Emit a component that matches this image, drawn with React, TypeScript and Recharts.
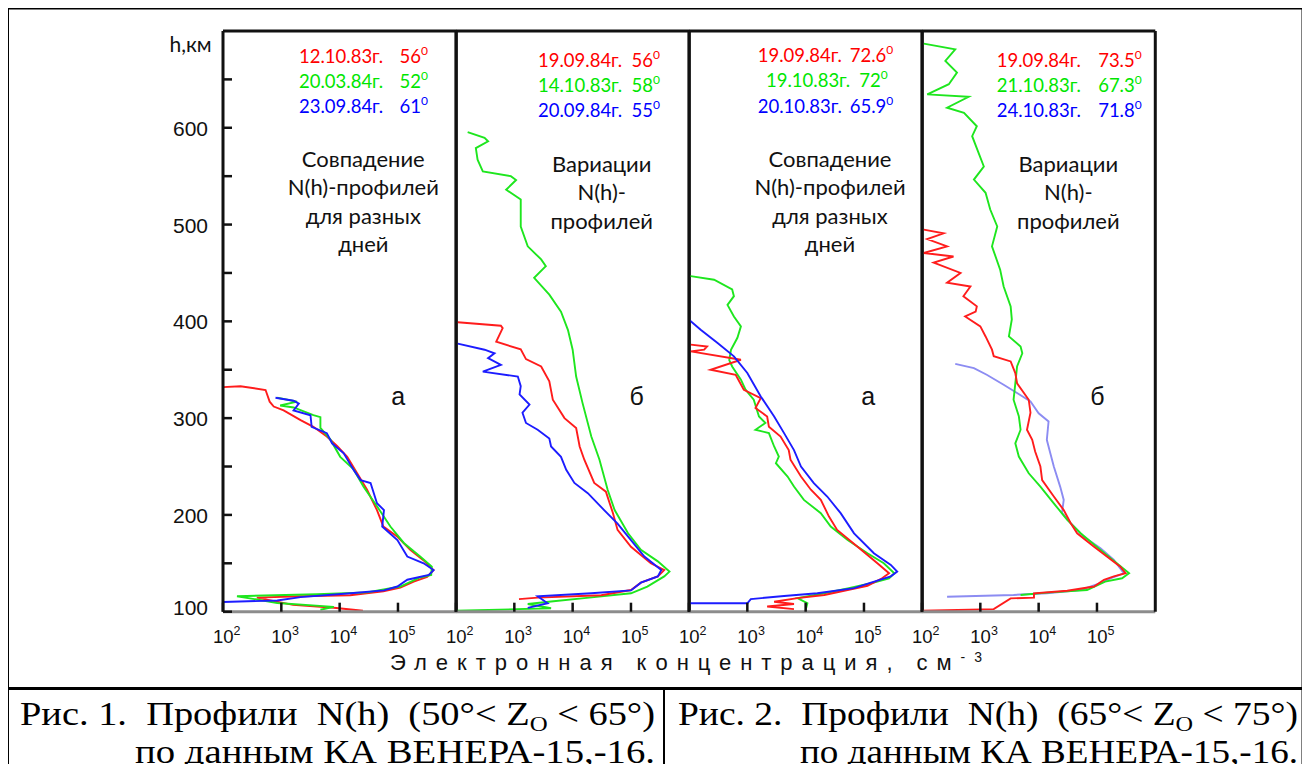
import React from 'react';
import { LineChart, Line, XAxis, YAxis } from 'recharts';

// each profile: [h, км ; lg N, см^-3], traced from the top of the profile down
type Pt = [number, number];

// Рис. 1 а
const p1Red: Pt[] = [
  [332, 2.0], [333, 2.3], [329, 2.73], [317, 2.8], [312, 2.87], [308, 3.04], [298, 3.33], [291, 3.55],
  [281, 3.78], [271, 3.96], [260, 4.13], [243, 4.3], [226, 4.47], [205, 4.64], [188, 4.75], [178, 4.98],
  [164, 5.21], [153, 5.44], [143, 5.61], [136, 5.5], [131, 5.27], [125, 5.04], [121, 4.75], [117, 4.18],
  [116, 3.33], [114.5, 2.58], [107, 3.2], [104, 3.9], [101, 4.4],
];
const p1Green: Pt[] = [
  [321, 2.93], [317, 3.27], [313, 2.98], [311, 3.21], [303, 3.55], [301, 3.67], [290, 3.67], [278, 3.84],
  [260, 4.01], [247, 4.24], [229, 4.41], [209, 4.64], [188, 4.87], [171, 5.1], [157, 5.38], [146.5, 5.58],
  [138, 5.57], [135, 5.36], [126, 5.04], [120, 4.47], [118, 3.61], [116, 2.24], [109, 2.93], [105, 3.9],
  [102, 3.67],
];
const p1Blue: Pt[] = [
  [321, 2.9], [318, 3.21], [315, 3.3], [308, 3.21], [303, 3.5], [291, 3.52], [284.5, 3.78], [274, 3.87],
  [263.6, 4.07], [246.5, 4.24], [236, 4.36], [233, 4.53], [212, 4.64], [205, 4.76], [188, 4.73], [174, 4.99],
  [157, 5.16], [150, 5.44], [143, 5.61], [138, 5.53], [133, 5.16], [126, 4.99], [122, 4.76], [119, 4.19],
  [115, 3.33], [111.6, 2.93], [110, 2.0],
];

// Рис. 1 б
const p2Red: Pt[] = [
  [399, 2.03], [395.5, 2.77], [393, 2.8], [379, 2.69], [371, 3.11], [361, 3.2], [353.4, 3.46], [338, 3.6],
  [319, 3.66], [300, 3.86], [289.7, 4.06], [270.7, 4.12], [257, 4.2], [233, 4.37], [224, 4.57], [202, 4.69],
  [184.5, 4.77], [167, 5.0], [150, 5.34], [143, 5.57], [136.5, 5.46], [130, 5.17], [122.4, 5.0], [117, 4.49],
  [114.5, 3.4], [113, 3.08],
];
const p2Green: Pt[] = [
  [595.5, 2.2], [589.6, 2.49], [586, 2.55], [579, 2.34], [567, 2.37], [555, 2.46], [550, 2.94], [546, 3.03],
  [536, 2.86], [526, 3.11], [498, 3.11], [477.5, 3.23], [464, 3.46], [457, 3.54], [445, 3.34], [427.6, 3.6],
  [410, 3.8], [391, 3.92], [370.7, 4.0], [343, 4.06], [315.5, 4.17], [281, 4.32], [257, 4.46], [226, 4.6],
  [205, 4.72], [181, 4.95], [164, 5.17], [152, 5.46], [141.4, 5.66], [136.5, 5.57], [126, 5.28], [119, 5.0],
  [114, 4.2], [110.5, 3.63], [108, 3.23], [103.5, 3.63], [101, 2.0],
];
const p2Blue: Pt[] = [
  [377, 2.03], [370.7, 2.49], [367, 2.66], [362, 2.55], [355, 2.77], [348, 2.46], [343, 3.06], [333, 3.11],
  [324.5, 3.09], [314, 3.26], [305.6, 3.14], [295, 3.2], [288, 3.4], [279, 3.6], [270.7, 3.63], [260, 3.8],
  [246.6, 3.89], [233, 4.03], [222.5, 4.26], [205, 4.54], [191, 4.77], [174, 5.0], [157, 5.23], [143, 5.52],
  [136.5, 5.46], [130, 5.17], [122, 5.0], [119, 4.32], [116, 3.4], [108.7, 3.57], [104, 3.23],
];

// Рис. 2 а
const p3Red: Pt[] = [
  [376, 2.03], [374, 2.31], [370.7, 2.26], [369, 2.03], [360.3, 2.89], [350, 2.37], [344.8, 2.8], [329.3, 2.94],
  [320.7, 3.23], [310.5, 3.14], [301.7, 3.34], [291, 3.37], [281, 3.57], [267, 3.71], [257, 3.74], [239.6, 3.92],
  [226, 4.09], [215.6, 4.26], [198.3, 4.4], [184.5, 4.54], [167, 4.89], [150, 5.23], [139.7, 5.43], [134.5, 5.31],
  [126.8, 5.06], [122.4, 4.72], [117.3, 4.32], [114, 3.86], [110.3, 3.46], [108, 3.8], [105.3, 3.34], [102.6, 3.8],
];
const p3Green: Pt[] = [
  [447, 2.0], [443, 2.43], [433, 2.74], [426, 2.77], [417, 2.66], [405, 2.77], [394.8, 2.89], [383, 2.83],
  [370.7, 2.72], [360, 2.69], [353.4, 2.74], [339.7, 2.89], [329.4, 2.97], [319, 3.11], [301.7, 3.2], [295, 3.31],
  [288, 3.14], [284.5, 3.37], [270.7, 3.46], [260.3, 3.54], [253.4, 3.49], [239.6, 3.69], [229.3, 3.8], [215.5, 3.97],
  [201.8, 4.26], [188, 4.43], [174, 4.72], [160.4, 5.06], [150, 5.34], [139.7, 5.52], [134.5, 5.43], [129.4, 5.12],
  [124, 4.72], [119, 4.32], [114, 3.86], [108.7, 4.03], [101.8, 4.0],
];
const p3Blue: Pt[] = [
  [401.7, 2.0], [391.4, 2.2], [377.6, 2.49], [363.8, 2.77], [346.6, 3.0], [322.4, 3.23], [301.7, 3.46], [284.5, 3.63],
  [267, 3.8], [250, 3.92], [232.8, 4.14], [219, 4.37], [201.8, 4.6], [181, 4.83], [160.4, 5.17], [148.3, 5.46],
  [141.4, 5.57], [136.5, 5.46], [130, 5.12], [124.3, 4.83], [119, 4.2], [116.2, 3.63], [113, 3.06], [108.7, 3.0],
  [108.7, 2.0],
];

// Рис. 2 б
const p4Red: Pt[] = [
  [494.8, 2.03], [491, 2.37], [485, 2.09], [477.5, 2.43], [470.6, 2.03], [467, 2.54], [460.6, 2.2], [450, 2.66],
  [440, 2.43], [436, 2.83], [426, 2.71], [415.5, 2.94], [410, 2.92], [405, 2.74], [394.8, 3.0], [384.4, 3.09],
  [370.7, 3.2], [364, 3.23], [358.6, 3.52], [346.6, 3.6], [336, 3.63], [319, 3.83], [305.6, 3.86], [288, 3.8],
  [277.6, 3.89], [265.5, 3.94], [250, 4.03], [236, 4.06], [219, 4.26], [205, 4.43], [191.4, 4.55], [181, 4.66],
  [167.2, 4.95], [157, 5.17], [146.5, 5.4], [139.7, 5.49], [136.5, 5.29], [133, 5.12], [126, 4.95], [121.7, 4.49],
  [119, 3.92], [114.5, 3.92], [113.8, 3.52], [102.6, 3.23], [101, 2.0],
];
const p4Green: Pt[] = [
  [687, 2.03], [681, 2.57], [669, 2.4], [657, 2.6], [645, 2.46], [634.5, 2.09], [632, 2.8], [620.7, 2.43],
  [615.5, 2.72], [601.6, 2.94], [591.3, 2.86], [574, 2.97], [560, 3.06], [546.5, 2.89], [532.8, 3.09], [515.5, 3.17],
  [498, 3.29], [477.5, 3.2], [453.4, 3.34], [436, 3.4], [415.5, 3.52], [402, 3.54], [384.4, 3.49], [374, 3.69],
  [367, 3.72], [353.4, 3.63], [336, 3.6], [319, 3.57], [302, 3.66], [288, 3.69], [274, 3.6], [260.3, 3.66],
  [243, 3.83], [229.3, 4.03], [212, 4.26], [194.8, 4.49], [181, 4.72], [163.8, 5.06], [150, 5.34], [139.7, 5.55],
  [134.5, 5.43], [131, 5.14], [122.4, 4.83], [119.7, 4.14], [117.3, 3.69],
];
const p4Blue: Pt[] = [
  [356, 2.57], [351.7, 2.89], [344.8, 3.11], [334.5, 3.4], [325.9, 3.63], [317.2, 3.86], [305, 4.0], [296.5, 4.17],
  [277.6, 4.14], [263.8, 4.2], [250, 4.26], [229, 4.37], [215.5, 4.43], [202, 4.4], [191.4, 4.55], [177.6, 4.77],
  [165.5, 5.06], [153.5, 5.29], [139.7, 5.46], [134.5, 5.23], [129.4, 5.06], [122.4, 4.72], [119, 4.14], [117.3, 3.57],
  [115.5, 2.43],
];

const X_TICKS = [100, 1000, 10000, 100000];
const X_TOP_TICKS = [1000, 10000, 100000];
const Y_TICKS = [100, 150, 200, 250, 300, 350, 400, 450, 500, 550, 600, 650];
const Y_LABELS = [100, 200, 300, 400, 500, 600];

const LEGEND_DATES = [
  ['12.10.83г.', '20.03.84г.', '23.09.84г.'],
  ['19.09.84г.', '14.10.83г.', '20.09.84г.'],
  ['19.09.84г.', '19.10.83г.', '20.10.83г.'],
  ['19.09.84г.', '21.10.83г.', '24.10.83г.'],
];
const LEGEND_ANGLES = [
  ['56', '52', '61'],
  ['56', '58', '55'],
  ['72.6', '72', '65.9'],
  ['73.5', '67.3', '71.8'],
];
const NOTES = [
  ['Совпадение', 'N(h)-профилей', 'для разных', 'дней'],
  ['Вариации', 'N(h)-', 'профилей'],
  ['Совпадение', 'N(h)-профилей', 'для разных', 'дней'],
  ['Вариации', 'N(h)-', 'профилей'],
];
const LETTERS = ['а', 'б', 'а', 'б'];

const RED = '#ff1c1c';
const GREEN = '#1ee61e';
const BLUE = '#1c1cff';
const BLUE_LIGHT = '#8c8cf2';
const TEXT_COLORS = ['#ff0000', '#00e600', '#0000ff'];

const PLOT_TOP = 31;
const PLOT_H = 580.7;
const PLOT_W = 233.3;
const PANEL_LEFT = [222.5, 455.8, 689.1, 922.4];

const SANS = "'Liberation Sans', Arial, sans-serif";
const CAL = "Lato, 'Open Sans', sans-serif";
const SERIF = "'Liberation Serif', 'Times New Roman', serif";

const toRows = (pts: Pt[]) => pts.map(([h, lg]) => ({ h, n: Math.pow(10, lg) }));

const PANELS: { lines: [Pt[], string][]; yLabels: boolean }[] = [
  { lines: [[p1Red, RED], [p1Green, GREEN], [p1Blue, BLUE]], yLabels: true },
  { lines: [[p2Green, GREEN], [p2Red, RED], [p2Blue, BLUE]], yLabels: false },
  { lines: [[p3Green, GREEN], [p3Red, RED], [p3Blue, BLUE]], yLabels: false },
  { lines: [[p4Blue, BLUE_LIGHT], [p4Green, GREEN], [p4Red, RED]], yLabels: false },
];

function XTickLabel({ x, y, payload }: any) {
  const p = Math.round(Math.log10(payload.value));
  return (
    <text x={x - 10} y={y + 31.5} fontFamily={SANS} fontSize={18.5} fill="#111">
      10<tspan dy={-8} fontSize={12.5}>{p}</tspan>
    </text>
  );
}

function YTickLabel({ x, y, payload }: any) {
  const v = payload.value;
  if (!Y_LABELS.includes(v)) return <g />;
  return (
    <text x={x - 15} y={y + 8 - (v === 100 ? 5 : 0)} textAnchor="end" fontFamily={SANS} fontSize={21} fill="#111">
      {v}
    </text>
  );
}

const axisLine = { stroke: '#111', strokeWidth: 3 };
const tickLine = { stroke: '#111', strokeWidth: 2.5 };

function Panel({ idx }: { idx: number }) {
  const cfg = PANELS[idx];
  const mL = idx === 0 ? 80 : 12;
  const mR = 12;
  const mT = 12;
  const mB = 50;
  const W = mL + 1 + PLOT_W + 1 + mR;
  const H = mT + 1 + PLOT_H + 1 + mB;
  return (
    <div style={{ position: 'absolute', left: PANEL_LEFT[idx] - mL - 1 - 8, top: PLOT_TOP - mT - 1 - 8 }}>
      <LineChart width={W} height={H} margin={{ top: mT, right: mR, bottom: mB, left: mL }}>
        <XAxis
          xAxisId="b" type="number" dataKey="n" scale="log" domain={[100, 1000000]} allowDataOverflow
          orientation="bottom" height={1} ticks={X_TICKS} interval={0} tickSize={-9} tickMargin={9}
          axisLine={{ stroke: '#8c8c8c', strokeWidth: 3 }} tickLine={tickLine} tick={(p: any) => <XTickLabel {...p} />}
        />
        <XAxis
          xAxisId="t" type="number" dataKey="n" scale="log" domain={[100, 1000000]} allowDataOverflow
          orientation="top" height={1} ticks={X_TOP_TICKS} interval={0} tickSize={-9}
          axisLine={axisLine} tickLine={tickLine} tick={false}
        />
        <YAxis
          yAxisId="l" type="number" dataKey="h" domain={[100, 700]} allowDataOverflow
          orientation="left" width={1} ticks={Y_TICKS} interval={0} tickSize={-9} tickMargin={9}
          axisLine={axisLine} tickLine={tickLine}
          tick={cfg.yLabels ? (p: any) => <YTickLabel {...p} /> : false}
        />
        <YAxis
          yAxisId="r" type="number" domain={[100, 700]} allowDataOverflow
          orientation="right" width={1} ticks={Y_TICKS} interval={0} tickSize={-9}
          axisLine={axisLine} tickLine={tickLine} tick={false}
        />
        {cfg.lines.map(([pts, color], i) => (
          <Line
            key={i} xAxisId="b" yAxisId="l" data={toRows(pts)} dataKey="h" stroke={color}
            strokeWidth={1.9} dot={false} activeDot={false} isAnimationActive={false} type="linear"
          />
        ))}
      </LineChart>
    </div>
  );
}

// legend rows: [date start x, angle end x] per row, and baselines
const LEGEND_POS = [
  { x: [[299, 428], [299, 428], [299, 428]], y: [62.7, 88.3, 113.3] },
  { x: [[538, 660], [538, 660], [538, 660]], y: [66.5, 91.5, 116.5] },
  { x: [[757.7, 893.3], [766, 887.7], [757.7, 893.3]], y: [61.7, 87, 112.7] },
  { x: [[996.7, 1141.7], [996.7, 1141.7], [996.7, 1141.7]], y: [66.7, 91.7, 116.7] },
];
const NOTE_X = [363.3, 601.7, 830, 1068.3];
const NOTE_Y0 = [166.7, 171.5, 166.7, 171.5];
const LETTER_X = [398.3, 636.7, 868.3, 1097.5];

function Overlay() {
  return (
    <svg width={1310} height={772} style={{ position: 'absolute', left: -8, top: -8 }}>
      <rect x={7.5} y={8} width={1295.5} height={900} fill="none" stroke="#000" strokeWidth={3} />
      <line x1={7.5} x2={1303} y1={688.5} y2={688.5} stroke="#000" strokeWidth={3} />
      <line x1={664} x2={664} y1={688.5} y2={772} stroke="#000" strokeWidth={2} />

      <text x={211.7} y={51.7} textAnchor="end" fontFamily={CAL} fontSize={21} fill="#111">h,км</text>

      {LEGEND_POS.map((lp, pi) =>
        lp.y.map((yy, r) => (
          <g key={`${pi}-${r}`} fill={TEXT_COLORS[r]} fontFamily={CAL} fontSize={18.5}>
            <text x={lp.x[r][0]} y={yy}>{LEGEND_DATES[pi][r]}</text>
            <text x={lp.x[r][1]} y={yy} textAnchor="end">
              {LEGEND_ANGLES[pi][r]}
              <tspan dy={-8} fontSize={12}>0</tspan>
            </text>
          </g>
        ))
      )}

      {NOTES.map((lines, pi) => (
        <text key={pi} fontFamily={CAL} fontSize={22} fill="#111" textAnchor="middle">
          {lines.map((s, i) => (
            <tspan key={i} x={NOTE_X[pi]} y={NOTE_Y0[pi] + i * 28.5}>{s}</tspan>
          ))}
        </text>
      ))}

      {LETTERS.map((l, i) => (
        <text key={i} x={LETTER_X[i]} y={405} textAnchor="middle" fontFamily={SANS} fontSize={25} fill="#111">{l}</text>
      ))}

      <text x={390} y={670} fontFamily={SANS} fontSize={22} fill="#111" textLength={592} lengthAdjust="spacing">
        {'Электронная концентрация, см'}
        <tspan dy={-8} fontSize={14}>-3</tspan>
      </text>

      <g fontFamily={SERIF} fontSize={34} fill="#000">
        <text x={20} y={725} textLength={635} lengthAdjust="spacingAndGlyphs" xmlSpace="preserve">
          {'Рис. 1.  Профили  N(h)  (50°< Z'}
          <tspan dy={6} fontSize={22}>O</tspan>
          <tspan dy={-6}>{' < 65°)'}</tspan>
        </text>
        <text x={135} y={763} fontSize={33} textLength={520} lengthAdjust="spacingAndGlyphs" xmlSpace="preserve">
          {'по данным КА ВЕНЕРА-15,-16.'}
        </text>
        <text x={678} y={725} textLength={620} lengthAdjust="spacingAndGlyphs" xmlSpace="preserve">
          {'Рис. 2.  Профили  N(h)  (65°< Z'}
          <tspan dy={6} fontSize={22}>O</tspan>
          <tspan dy={-6}>{' < 75°)'}</tspan>
        </text>
        <text x={800} y={763} fontSize={33} textLength={498} lengthAdjust="spacingAndGlyphs" xmlSpace="preserve">
          {'по данным КА ВЕНЕРА-15,-16.'}
        </text>
      </g>
    </svg>
  );
}

export default function App() {
  return (
    <div style={{ position: 'relative', width: 1294, height: 756, background: '#fff' }}>
      {PANELS.map((_, i) => (
        <Panel key={i} idx={i} />
      ))}
      <Overlay />
    </div>
  );
}
